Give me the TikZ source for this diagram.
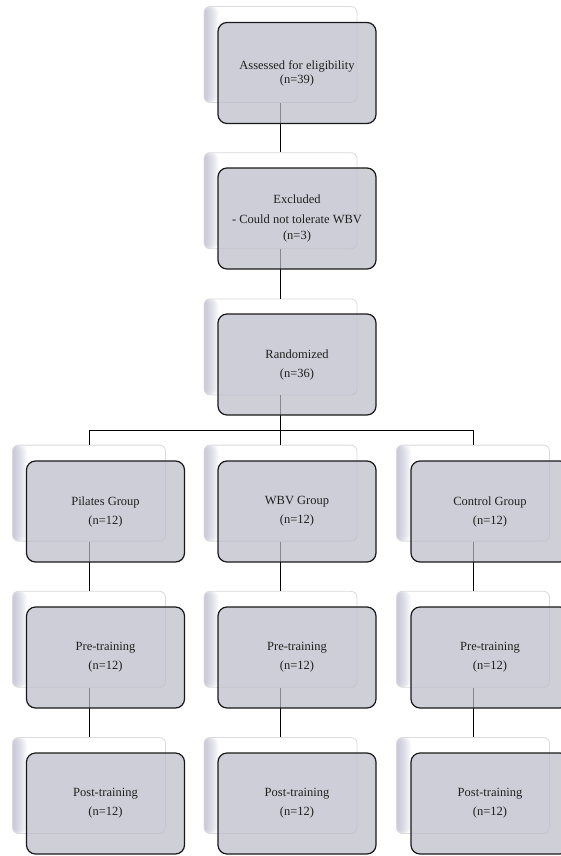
\documentclass[tikz,border=0pt]{standalone}
\usepackage{fontspec}
\setmainfont{Liberation Serif}
\usetikzlibrary{calc}
\definecolor{frontc}{RGB}{188,188,201}
\definecolor{lav}{RGB}{170,170,196}
\definecolor{cardedge}{RGB}{218,218,222}
\begin{document}
\begin{tikzpicture}[x=1pt,y=-1pt,
  backcard/.style={draw=cardedge, line width=0.8pt, fill=white, rounded corners=6pt,
    minimum width=153pt, minimum height=96pt, inner sep=0pt,
    path picture={\foreach \w in {2,4,6,8,10,12,14}
      {\fill[lav, fill opacity=0.12] (path picture bounding box.south west) rectangle ([xshift=\w pt]path picture bounding box.north west);}}},
  frontbox/.style={draw=black!90, line width=1.2pt, fill=frontc, fill opacity=0.72, text opacity=1,
    rounded corners=9pt, minimum width=158pt, minimum height=101pt, inner sep=2pt,
    text=black!88, align=center, font=\fontsize{12.5}{14}\selectfont},
  conn/.style={draw=black, line width=1pt}]
\useasboundingbox (0,0) rectangle (560,856);
% back cards
\node[backcard] (b1) at (280.5,54.5) {};
\node[backcard] (b2) at (280.5,200.7) {};
\node[backcard] (b3) at (280.5,346.9) {};
\node[backcard] (b4a) at (89,493.1) {};
\node[backcard] (b4b) at (280.5,493.1) {};
\node[backcard] (b4c) at (473,493.1) {};
\node[backcard] (b5a) at (89,639.3) {};
\node[backcard] (b5b) at (280.5,639.3) {};
\node[backcard] (b5c) at (473,639.3) {};
\node[backcard] (b6a) at (89,785.5) {};
\node[backcard] (b6b) at (280.5,785.5) {};
\node[backcard] (b6c) at (473,785.5) {};
% connectors
\coordinate (hbar) at (280.5,430);
\draw[conn] (b1.south) -- (b2.north);
\draw[conn] (b2.south) -- (b3.north);
\draw[conn] (b3.south) -- (b3.south |- hbar);
\draw[conn] (b4a.north) -- (b4a.north |- hbar) -- (b4c.north |- hbar) -- (b4c.north);
\draw[conn] (b4b.north) -- (b4b.north |- hbar);
\draw[conn] (b4a.south) -- (b5a.north);
\draw[conn] (b4b.south) -- (b5b.north);
\draw[conn] (b4c.south) -- (b5c.north);
\draw[conn] (b5a.south) -- (b6a.north);
\draw[conn] (b5b.south) -- (b6b.north);
\draw[conn] (b5c.south) -- (b6c.north);
% front boxes
\node[frontbox] (f1) at (297,73) {Assessed for eligibility\\(n=39)};
\node[frontbox] (f2) at (297,218.5) {Excluded\\[6pt]- Could not tolerate WBV\\[2pt](n=3)};
\node[frontbox] (f3) at (297,364.5) {Randomized\\[5pt](n=36)};
\node[frontbox] (f4a) at (105.5,511.5) {Pilates Group\\[5pt](n=12)};
\node[frontbox] (f4b) at (297,511.5) {WBV Group\\[5pt](n=12)};
\node[frontbox] (f4c) at (490,511.5) {Control Group\\[5pt](n=12)};
\node[frontbox] (f5a) at (105.5,657.5) {Pre-training\\[5pt](n=12)};
\node[frontbox] (f5b) at (297,657.5) {Pre-training\\[5pt](n=12)};
\node[frontbox] (f5c) at (490,657.5) {Pre-training\\[5pt](n=12)};
\node[frontbox] (f6a) at (105.5,803.5) {Post-training\\[5pt](n=12)};
\node[frontbox] (f6b) at (297,803.5) {Post-training\\[5pt](n=12)};
\node[frontbox] (f6c) at (490,803.5) {Post-training\\[5pt](n=12)};
\end{tikzpicture}
\end{document}
